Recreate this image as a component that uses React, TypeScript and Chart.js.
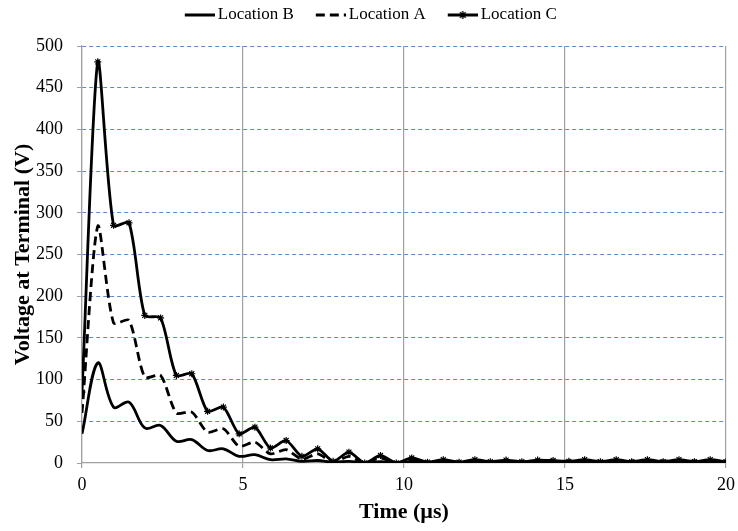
import React, { useEffect, useRef } from 'react';
import { Chart, registerables } from 'chart.js';

Chart.register(...registerables);

// Time samples (µs)
const timeUs = [
  0, 0.49, 0.98, 1.46, 1.95, 2.44, 2.93, 3.41, 3.9, 4.39,
  4.88, 5.37, 5.85, 6.34, 6.83, 7.32, 7.8, 8.29, 8.78, 9.27,
  9.76, 10.24, 10.73, 11.22, 11.71, 12.2, 12.68, 13.17, 13.66, 14.15,
  14.63, 15.12, 15.61, 16.1, 16.59, 17.07, 17.56, 18.05, 18.54, 19.02,
  19.51, 20,
];

// Voltage at terminal (V)
const locationB = [
  35, 120, 67, 73, 42, 45, 26, 28, 15, 17,
  8, 10, 4, 5, 2, 3, 1, 2, 0.5, 1.5,
  0.5, 1.5, 0.5, 1.5, 0.5, 1.5, 0.5, 1.5, 0.5, 1.5,
  0.5, 1.5, 1, 1.5, 1, 1.5, 1, 1.5, 1, 1.5,
  1, 1,
];

const locationA = [
  60, 284, 168, 171, 103, 105, 60, 61, 37, 41,
  20, 25, 11, 16, 4.5, 11, 1, 8, 0, 6,
  0, 4, 1, 3, 1, 3, 1, 2.5, 1, 2.5,
  1.5, 2.5, 1.5, 2.5, 1, 2.5, 1, 2.5, 1, 2.5,
  1, 1,
];

const locationC = [
  85, 481, 285, 288, 177, 174, 105, 107, 62, 67,
  35, 43, 18, 27, 8, 17, 2, 13, 0, 9,
  0, 6, 1, 4, 1, 4, 1.5, 3.5, 1.5, 3.5,
  3, 2, 4, 1.5, 4, 1.5, 4, 1.5, 4, 1.5,
  4, 1.5,
];

const seriesNames = ['Location B', 'Location A', 'Location C'];
const xTickValues = [0, 5, 10, 15, 20];
const yMin = 0;
const yMax = 500;
const yStep = 50;

const FONT = '"Liberation Serif", "Times New Roman", serif';

function drawStar(g: CanvasRenderingContext2D, cx: number, cy: number, r: number) {
  g.beginPath();
  g.moveTo(cx - r, cy); g.lineTo(cx + r, cy);
  g.moveTo(cx, cy - r); g.lineTo(cx, cy + r);
  const d = r * 0.707;
  g.moveTo(cx - d, cy - d); g.lineTo(cx + d, cy + d);
  g.moveTo(cx - d, cy + d); g.lineTo(cx + d, cy - d);
  g.stroke();
}

function makeLegendImage(kind: 'solid' | 'dash' | 'marker') {
  const c = document.createElement('canvas');
  c.width = 51;
  c.height = 12;
  const g = c.getContext('2d')!;
  g.strokeStyle = '#000';
  g.lineWidth = 3;
  if (kind === 'dash') g.setLineDash([9, 5]);
  g.beginPath();
  g.moveTo(21, 6);
  g.lineTo(51, 6);
  g.stroke();
  if (kind === 'marker') {
    g.setLineDash([]);
    g.lineWidth = 1.4;
    drawStar(g, 36, 6, 4);
  }
  return c;
}

export default function App() {
  const ref = useRef<HTMLCanvasElement | null>(null);

  useEffect(() => {
    if (!ref.current) return;
    Chart.defaults.font.family = FONT;
    Chart.defaults.color = '#000';

    const images = [makeLegendImage('solid'), makeLegendImage('dash'), makeLegendImage('marker')];

    const legendSpacer = {
      id: 'legendSpacer',
      beforeLayout(chart: any) {
        const lg = chart.legend;
        if (lg && !lg.__patched) {
          const orig = lg.fit.bind(lg);
          lg.fit = () => {
            orig();
            lg.height = 46;
          };
          lg.__patched = true;
        }
      },
    };

    const chart = new Chart(ref.current, {
      type: 'line',
      data: {
        datasets: [
          {
            label: seriesNames[0],
            data: timeUs.map((t, i) => ({ x: t, y: locationB[i] })),
            borderColor: '#000',
            backgroundColor: '#000',
            borderWidth: 2.8,
            pointRadius: 0,
            tension: 0.35,
          },
          {
            label: seriesNames[1],
            data: timeUs.map((t, i) => ({ x: t, y: locationA[i] })),
            borderColor: '#000',
            backgroundColor: '#000',
            borderWidth: 2.8,
            borderDash: [9, 5],
            pointRadius: 0,
            tension: 0.25,
          },
          {
            label: seriesNames[2],
            data: timeUs.map((t, i) => ({ x: t, y: locationC[i] })),
            borderColor: '#000',
            backgroundColor: '#000',
            borderWidth: 2.8,
            pointStyle: 'star',
            pointRadius: 3.5,
            pointBorderWidth: 1.2,
            pointBorderColor: '#000',
            tension: 0.25,
          },
        ],
      },
      options: {
        responsive: false,
        animation: false,
        devicePixelRatio: 1,
        layout: { padding: { top: 0, right: 12, bottom: 0, left: 0 } },
        plugins: {
          tooltip: { enabled: false },
          legend: {
            position: 'top',
            labels: {
              usePointStyle: true,
              pointStyleWidth: 40,
              padding: 6.5,
              color: '#000',
              font: { size: 17, family: FONT },
              generateLabels: (ch: any) => {
                const items = Chart.defaults.plugins.legend.labels.generateLabels(ch);
                return items.map((it: any, i: number) => ({ ...it, pointStyle: images[i] }));
              },
            },
          },
        },
        scales: {
          x: {
            type: 'linear',
            min: 0,
            max: 20,
            afterBuildTicks: (s: any) => {
              s.ticks = xTickValues.map((v) => ({ value: v }));
            },
            afterFit: (s: any) => {
              s.height = 68;
              s.paddingRight = 0;
              s.paddingLeft = 0;
            },
            ticks: {
              color: '#000',
              padding: 6,
              font: { size: 18, family: FONT },
            },
            grid: {
              color: '#a0a0a0',
              lineWidth: 1.2,
              tickLength: 5,
              tickColor: '#a0a0a0',
            },
            border: { color: '#a0a0a0', width: 1.2 },
            title: {
              display: true,
              text: 'Time (µs)',
              color: '#000',
              font: { size: 22, weight: 'bold', family: FONT },
              padding: { top: 0, bottom: 5 },
            },
          },
          y: {
            type: 'linear',
            min: yMin,
            max: yMax,
            afterFit: (s: any) => {
              s.width = 82;
            },
            ticks: {
              stepSize: yStep,
              color: '#000',
              padding: 14,
              font: { size: 18, family: FONT },
            },
            grid: {
              color: (c: any) => (c.tick && c.tick.value === 0 ? 'rgba(0,0,0,0)' : '#5b8bd0'),
              lineWidth: 1,
              tickLength: 5,
              tickColor: '#a0a0a0',
            },
            border: { color: '#a0a0a0', width: 1.2, dash: [4, 3] },
            title: {
              display: true,
              text: 'Voltage at Terminal (V)',
              color: '#000',
              font: { size: 22, weight: 'bold', family: FONT },
              padding: { top: 10, bottom: 0 },
            },
          },
        },
      },
      plugins: [legendSpacer],
    } as any);

    return () => chart.destroy();
  }, []);

  return (
    <div style={{ position: 'fixed', left: 0, top: 0, width: 738, height: 531, background: '#fff' }}>
      <canvas ref={ref} width={738} height={531} style={{ width: 738, height: 531, display: 'block' }} />
    </div>
  );
}
